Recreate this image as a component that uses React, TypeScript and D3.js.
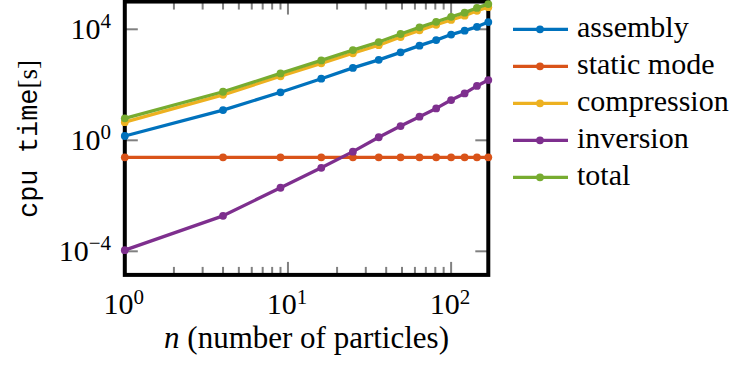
import React from "react";
import * as d3 from "d3";

const nParticles = [1, 4, 9, 16, 25, 36, 49, 64, 81, 100, 121, 144, 169];
const assembly = [1.43, 12.3, 53.7, 166, 407, 794, 1479, 2570, 4074, 6457, 8913, 12303, 18197];
const staticMode = [0.244, 0.244, 0.244, 0.244, 0.244, 0.244, 0.244, 0.244, 0.244, 0.244, 0.244, 0.244, 0.244];
const compression = [4.5, 43.6, 203, 593, 1371, 2672, 5279, 9172, 14533, 21700, 30849, 46490, 62938];
const inversion = [1.1e-4, 0.0019, 0.0195, 0.102, 0.39, 1.29, 3.27, 7.1, 14.1, 28.2, 49, 91.2, 148];
const total = [6.17, 56.2, 257, 759, 1778, 3467, 6761, 11749, 18621, 28184, 39811, 58884, 81283];

const seriesNames = ["assembly", "static mode", "compression", "inversion", "total"];
const seriesColors = ["#0072BD", "#D95319", "#EDB120", "#7E2F8E", "#77AC30"];
const seriesValues = [assembly, staticMode, compression, inversion, total];

const xTickMajor = [1, 10, 100];
const yTickMajor = [1e-4, 1, 1e4];

const SERIF = "Liberation Serif";
const MONO = "Liberation Mono";

export default function App() {
  const W = 749, H = 365;
  const left = 124.8, right = 488.3, top = 1.55, bottom = 274.9;
  const x = d3.scaleLog().domain([1, 169]).range([left, right]);
  const y = d3.scaleLog().domain([Math.pow(10, -4.85), 1e5]).range([bottom, top]);

  const minorX: number[] = [];
  for (const dec of [1, 10, 100]) {
    for (let k = 2; k <= 9; k++) {
      const v = dec * k;
      if (v < 169) minorX.push(v);
    }
  }

  const line = d3
    .line<[number, number]>()
    .x((d) => x(d[0]))
    .y((d) => y(d[1]));

  const tickColor = "#808080";
  const expOf = (v: number) => Math.round(Math.log10(v));
  const fmtExp = (e: number) => (e < 0 ? "\u2212" + Math.abs(e) : String(e));

  return (
    <svg
      width={W}
      height={H}
      fontFamily={SERIF}
      style={{ display: "block", position: "absolute", left: 0, top: 0, fontFamily: SERIF }}
    >
      <rect x={0} y={0} width={W} height={H} fill="#fff" />
      <g stroke={tickColor} strokeWidth={2}>
        {xTickMajor.slice(1).map((v) => (
          <g key={"xm" + v}>
            <line x1={x(v)} x2={x(v)} y1={bottom} y2={bottom - 13} />
            <line x1={x(v)} x2={x(v)} y1={top} y2={top + 13} />
          </g>
        ))}
        {minorX.map((v) => (
          <g key={"xn" + v}>
            <line x1={x(v)} x2={x(v)} y1={bottom} y2={bottom - 8} />
            <line x1={x(v)} x2={x(v)} y1={top} y2={top + 8} />
          </g>
        ))}
        {yTickMajor.map((v) => (
          <g key={"ym" + v}>
            <line x1={left} x2={left + 13} y1={y(v)} y2={y(v)} />
            <line x1={right} x2={right - 13} y1={y(v)} y2={y(v)} />
          </g>
        ))}
      </g>
      <rect x={left} y={top} width={right - left} height={bottom - top} fill="none" stroke="#000" strokeWidth={4} />
      {seriesValues.map((vals, i) => {
        const pts: [number, number][] = nParticles.map((n, j) => [n, vals[j]]);
        return (
          <g key={seriesNames[i]}>
            <path d={line(pts) || ""} fill="none" stroke={seriesColors[i]} strokeWidth={3.3} strokeLinejoin="round" />
            {pts.map((p, j) => (
              <circle key={j} cx={x(p[0])} cy={y(p[1])} r={3.9} fill={seriesColors[i]} />
            ))}
          </g>
        );
      })}
      {xTickMajor.map((v) => (
        <text key={"xl" + v} x={x(v) - 1} y={314} textAnchor="middle" style={{ fontFamily: SERIF, fontSize: 30 }}>
          10<tspan style={{ fontSize: 21 }} dy={-10}>{fmtExp(expOf(v))}</tspan>
        </text>
      ))}
      {yTickMajor.map((v) => (
        <text key={"yl" + v} x={111} y={y(v) + 10} textAnchor="end" style={{ fontFamily: SERIF, fontSize: 30 }}>
          10<tspan style={{ fontSize: 21 }} dy={-11}>{fmtExp(expOf(v))}</tspan>
        </text>
      ))}
      <text x={(left + right) / 2} y={348} textAnchor="middle" style={{ fontFamily: SERIF, fontSize: 31 }}>
        <tspan style={{ fontStyle: "italic" }}>n</tspan> (number of particles)
      </text>
      <text transform={`translate(37, 139) rotate(-90)`} textAnchor="middle" style={{ fontFamily: SERIF, fontSize: 27 }}>
        <tspan style={{ fontFamily: MONO }}>cpu time</tspan>
        <tspan>[s]</tspan>
      </text>
      {seriesNames.map((name, i) => {
        const ly = 29.3 + i * 37;
        return (
          <g key={"lg" + name}>
            <line x1={513} x2={568} y1={ly} y2={ly} stroke={seriesColors[i]} strokeWidth={3.3} />
            <circle cx={540} cy={ly} r={3.9} fill={seriesColors[i]} />
            <text x={577} y={ly + 7.5} style={{ fontFamily: SERIF, fontSize: 30 }}>
              {name}
            </text>
          </g>
        );
      })}
    </svg>
  );
}
